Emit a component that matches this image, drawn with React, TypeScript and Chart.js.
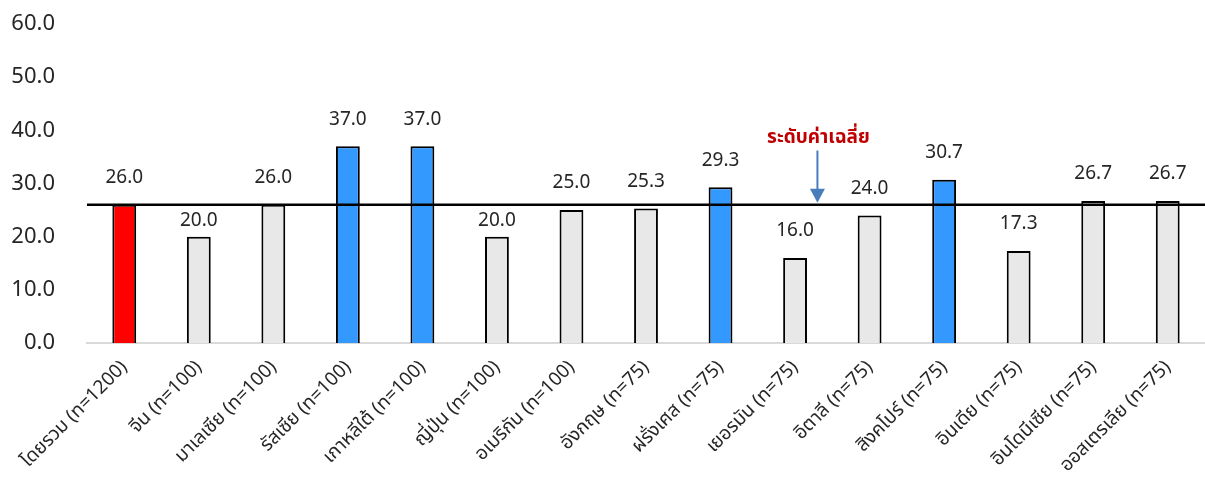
import React, { useEffect, useRef } from "react";
import { Chart, registerables } from "chart.js";

Chart.register(...registerables);

const categories = [
  "โดยรวม (n=1200)",
  "จีน (n=100)",
  "มาเลเซีย (n=100)",
  "รัสเซีย (n=100)",
  "เกาหลีใต้ (n=100)",
  "ญี่ปุ่น (n=100)",
  "อเมริกัน (n=100)",
  "อังกฤษ (n=75)",
  "ฝรั่งเศส (n=75)",
  "เยอรมัน (n=75)",
  "อิตาลี (n=75)",
  "สิงคโปร์ (n=75)",
  "อินเดีย (n=75)",
  "อินโดนีเซีย (n=75)",
  "ออสเตรเลีย (n=75)",
];
const values = [26.0, 20.0, 26.0, 37.0, 37.0, 20.0, 25.0, 25.3, 29.3, 16.0, 24.0, 30.7, 17.3, 26.7, 26.7];
const barKinds = ["total", "other", "other", "high", "high", "other", "other", "other", "high", "other", "other", "high", "other", "other", "other"];
const averageValue = 26.0;
const averageLabel = "ระดับค่าเฉลี่ย";
const yTicks = [0, 10, 20, 30, 40, 50, 60];

const kindColors: Record<string, string> = {
  total: "#FF0000",
  high: "#3399FF",
  other: "#E8E8E8",
};

const FONT = "'Noto Sans', 'Noto Sans Thai', Tahoma, sans-serif";

const overlayPlugin = {
  id: "overlay",
  afterDatasetsDraw(chart: any) {
    const { ctx, chartArea, scales } = chart;
    const x = scales.x;
    const y = scales.y;
    ctx.save();
    const ya = y.getPixelForValue(averageValue);
    ctx.strokeStyle = "#000000";
    ctx.lineWidth = 2.5;
    ctx.beginPath();
    ctx.moveTo(chartArea.left, ya);
    ctx.lineTo(chartArea.right, ya);
    ctx.stroke();

    const meta = chart.getDatasetMeta(0);
    ctx.fillStyle = "#262626";
    ctx.font = `19px ${FONT}`;
    ctx.textAlign = "center";
    ctx.textBaseline = "middle";
    meta.data.forEach((bar: any, i: number) => {
      let ly = bar.y - 27;
      if (Math.abs(ly - ya) < 14 && bar.y > ya) ly = (ya + bar.y) / 2;
      ctx.fillText(values[i].toFixed(1), bar.x, ly);
    });

    const ax = x.getPixelForValue(9.3);
    const tail = y.getPixelForValue(36.2);
    const tip = ya - 2;
    ctx.strokeStyle = "#4A7EBB";
    ctx.fillStyle = "#4A7EBB";
    ctx.lineWidth = 2;
    ctx.beginPath();
    ctx.moveTo(ax, tail);
    ctx.lineTo(ax, tip - 13);
    ctx.stroke();
    ctx.beginPath();
    ctx.moveTo(ax - 7.5, tip - 14);
    ctx.lineTo(ax + 7.5, tip - 14);
    ctx.lineTo(ax, tip);
    ctx.closePath();
    ctx.fill();

    ctx.fillStyle = "#C00000";
    ctx.font = `bold 19px ${FONT}`;
    ctx.textAlign = "center";
    ctx.textBaseline = "middle";
    ctx.fillText(averageLabel, ax + 1, y.getPixelForValue(38.7));
    ctx.restore();
  },
};

export default function App() {
  const ref = useRef<HTMLCanvasElement | null>(null);
  useEffect(() => {
    document.body.style.margin = "0";
    document.body.style.overflow = "hidden";
    const chart = new Chart(ref.current as HTMLCanvasElement, {
      type: "bar",
      data: {
        labels: categories,
        datasets: [
          {
            data: values,
            backgroundColor: barKinds.map((k) => kindColors[k]),
            borderColor: "#000000",
            borderWidth: 2,
            barPercentage: 0.32,
            categoryPercentage: 1,
          },
        ],
      },
      options: {
        animation: false,
        responsive: false,
        maintainAspectRatio: false,
        layout: { padding: { top: 24, right: -5, left: 0, bottom: 0 } },
        plugins: { legend: { display: false }, tooltip: { enabled: false } },
        scales: {
          x: {
            grid: { display: false, drawTicks: false },
            border: { display: true, color: "#D9D9D9", width: 2 },
            ticks: {
              maxRotation: 45,
              minRotation: 45,
              autoSkip: false,
              padding: 13,
              color: "#262626",
              font: { family: FONT, size: 19 },
            },
            afterFit: (s: any) => {
              s.height = 136;
            },
          },
          y: {
            min: 0,
            max: 60,
            afterBuildTicks: (s: any) => {
              s.ticks = yTicks.map((v) => ({ value: v }));
            },
            grid: { display: false, drawTicks: true, tickLength: 30, tickColor: "rgba(0,0,0,0)" },
            border: { display: false },
            ticks: {
              padding: 2,
              color: "#262626",
              font: { family: FONT, size: 22 },
              callback: (v: any) => Number(v).toFixed(1),
            },
            afterFit: (s: any) => {
              s.width = 87;
            },
          },
        },
      },
      plugins: [overlayPlugin],
    });
    return () => chart.destroy();
  }, []);
  return <canvas ref={ref} width={1205} height={479} style={{ display: "block" }} />;
}
